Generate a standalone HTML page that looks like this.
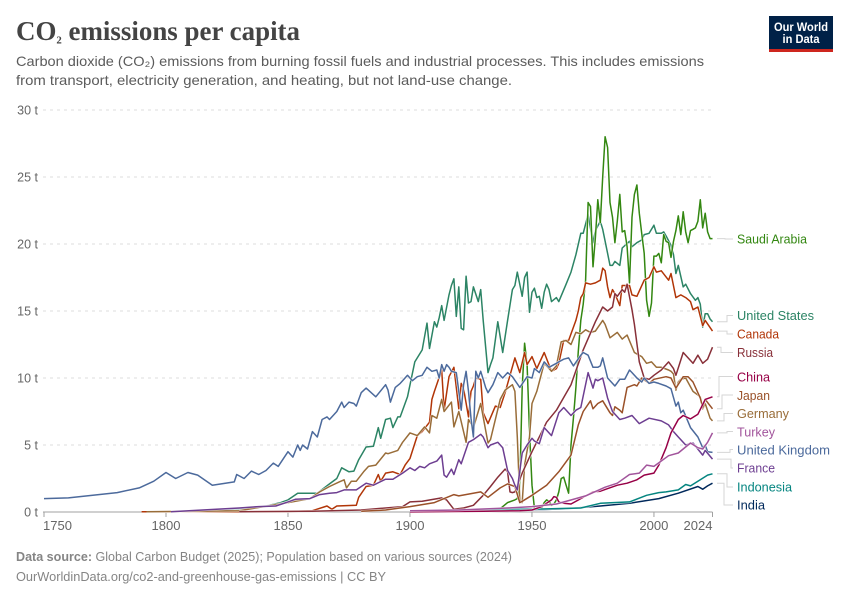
<!DOCTYPE html>
<html lang="en">
<head>
<meta charset="utf-8">
<title>CO₂ emissions per capita</title>
<style>
html,body{margin:0;padding:0;background:#fff;}
svg{display:block;font-family:"Liberation Sans",sans-serif;}
</style>
</head>
<body>
<svg id="chart" width="850" height="600" viewBox="0 0 850 600" xmlns="http://www.w3.org/2000/svg">
  <rect x="0" y="0" width="850" height="600" fill="#fff"/>
  <text x="16" y="40" font-family="'Liberation Serif',serif" font-size="27" font-weight="700" fill="#444444" textLength="284" lengthAdjust="spacingAndGlyphs">CO<tspan font-size="18">₂</tspan> emissions per capita</text>
  <text x="16" y="66" font-size="14" fill="#5b5b5b" textLength="688" lengthAdjust="spacingAndGlyphs">Carbon dioxide (CO₂) emissions from burning fossil fuels and industrial processes. This includes emissions</text>
  <text x="16" y="85" font-size="14" fill="#5b5b5b" textLength="496" lengthAdjust="spacingAndGlyphs">from transport, electricity generation, and heating, but not land-use change.</text>
  <g>
    <rect x="769" y="16" width="64" height="36" fill="#002147"/>
    <rect x="769" y="49" width="64" height="3" fill="#ce261e"/>
    <text x="801" y="31" font-size="12" font-weight="700" fill="#fff" text-anchor="middle" textLength="54" lengthAdjust="spacingAndGlyphs">Our World</text>
    <text x="801" y="43" font-size="12" font-weight="700" fill="#fff" text-anchor="middle" textLength="37" lengthAdjust="spacingAndGlyphs">in Data</text>
  </g>
  <g id="grid"></g>
  <g id="axis"></g>
  <g id="series"></g>
  <g id="connectors"></g>
  <g id="legend" font-size="12.5">
    <text x="737" y="243.5" fill="#338711" textLength="70" lengthAdjust="spacingAndGlyphs">Saudi Arabia</text>
    <text x="737" y="320" fill="#2c8465" textLength="77" lengthAdjust="spacingAndGlyphs">United States</text>
    <text x="737" y="338.5" fill="#b13507" textLength="42" lengthAdjust="spacingAndGlyphs">Canada</text>
    <text x="737" y="357" fill="#883039" textLength="36" lengthAdjust="spacingAndGlyphs">Russia</text>
    <text x="737" y="381.5" fill="#970046" textLength="33" lengthAdjust="spacingAndGlyphs">China</text>
    <text x="737" y="400" fill="#9a5129" textLength="33" lengthAdjust="spacingAndGlyphs">Japan</text>
    <text x="737" y="418" fill="#996d39" textLength="52" lengthAdjust="spacingAndGlyphs">Germany</text>
    <text x="737" y="436.5" fill="#a2559c" textLength="38" lengthAdjust="spacingAndGlyphs">Turkey</text>
    <text x="737" y="454.5" fill="#4c6a9c" textLength="93" lengthAdjust="spacingAndGlyphs">United Kingdom</text>
    <text x="737" y="472.5" fill="#6d3e91" textLength="38" lengthAdjust="spacingAndGlyphs">France</text>
    <text x="737" y="491.5" fill="#058580" textLength="55" lengthAdjust="spacingAndGlyphs">Indonesia</text>
    <text x="737" y="509.5" fill="#00295b" textLength="28" lengthAdjust="spacingAndGlyphs">India</text>
  </g>
  <text x="16" y="561" font-size="13" fill="#858585" textLength="496" lengthAdjust="spacingAndGlyphs"><tspan font-weight="700">Data source:</tspan> Global Carbon Budget (2025); Population based on various sources (2024)</text>
  <text x="16" y="581" font-size="13" fill="#858585" textLength="370" lengthAdjust="spacingAndGlyphs">OurWorldinData.org/co2-and-greenhouse-gas-emissions | CC BY</text>
</svg>
<script>
const yTickValues = [0, 5, 10, 15, 20, 25, 30];
const xTickYears = [1750, 1800, 1850, 1900, 1950, 2000, 2024];

const unitedKingdomYears = [
  1750,1760,1770,1780,1789,1795,1800,1804,1809,1813,
  1819,1828,1829,1832,1835,1838,1841,1844,1846,1850,
  1852,1854,1855,1856,1858,1860,1862,1864,1866,1867,
  1870,1872,1873,1875,1877,1878,1880,1882,1886,1890,
  1891,1892,1894,1896,1899,1901,1903,1905,1907,1909,
  1911,1912,1913,1914,1915,1916,1917,1919,1920,1921,
  1922,1923,1924,1925,1926,1927,1928,1929,1930,1931,
  1932,1934,1936,1938,1940,1942,1945,1948,1950,1951,
  1953,1955,1957,1960,1961,1963,1965,1967,1970,1971,
  1973,1975,1977,1978,1979,1981,1984,1986,1988,1990,
  1991,1993,1995,1996,1998,2000,2002,2005,2007,2009,
  2010,2011,2012,2015,2018,2019,2020,2021,2022,2024
];
const unitedKingdomValues = [
  1,1.05,1.25,1.45,1.8,2.3,2.95,2.5,2.95,2.75,
  2,2.25,2.8,2.5,3.05,2.8,3.1,3.65,3.4,4.5,
  4.1,5,4.6,5,4.7,6,5.6,6.9,7.1,6.9,
  7.5,8.2,7.8,8.2,8.1,7.9,8.9,9.25,8.6,9.5,
  9.1,8.2,9.3,9.6,10.2,9.8,10.1,10.2,10.8,10.5,
  10.6,10,11,10.5,11,10.8,10.5,10.4,9,7.6,
  9.5,10.5,9,7,5.6,10.5,10,10.5,9.9,9.3,
  8.9,9.5,10.4,10,10.4,10.1,9.3,10.1,10,10.7,
  10.4,11.2,10.8,11.1,11.2,11.4,11.5,10.9,11.7,11.9,
  11.7,10.8,10.8,10.9,11.5,10,9.4,9.9,9.9,10.6,
  10.4,10,9.7,10,9.6,9.7,9.6,9.4,9.2,7.9,
  8.2,7.4,7.6,6.3,5.6,5.2,4.8,5,4.5,4.45
];
const unitedStatesYears = [1820,1840,1847,1850,1854,1862,1867,1870,1872,1875,1877,1879,1882,1885,1887,1888,1890,1892,1893,1895,1896,1899,1902,1905,1907,1908,1910,1911,1912,1913,1914,1916,1917,1918,1919,1920,1921,1922,1923,1924,1925,1926,1928,1929,1930,1932,1933,1934,1936,1938,1940,1942,1943,1944,1946,1947,1948,1949,1950,1951,1952,1953,1954,1955,1956,1957,1958,1960,1961,1964,1966,1968,1970,1971,1973,1975,1976,1978,1979,1981,1982,1983,1984,1986,1987,1990,1991,1993,1995,1996,1998,2000,2001,2003,2004,2005,2007,2008,2009,2010,2012,2013,2015,2017,2018,2019,2020,2021,2022,2023,2024];
const unitedStatesValues = [0.1,0.4,0.7,0.9,1.4,1.4,2.1,2.5,3.3,3,3.05,3.9,4.85,4.9,6.3,5.5,6.9,7,6.3,7.1,7.1,8.6,11.2,12.1,14.1,12.2,14.2,13.8,14.5,15.4,14.3,16.2,16.9,17.4,14.6,16.8,13.7,13.6,17.6,15.6,15.7,16.8,15.7,16.6,14.3,10.4,11,11.5,14.2,11.9,14.3,16.6,16.9,17.9,16.1,17.5,17.9,14.9,16.4,16.7,16,16.1,15.2,16.4,17,16.6,15.7,16,15.7,17,17.9,19.2,20.8,20.8,22.2,20.1,21,21.7,21.1,19.3,18.4,18.4,18.7,18.4,19.7,20.2,19.8,20.1,20.3,20.7,20.8,21.4,20.8,20.8,20.9,20.6,19.9,19.2,17.8,18.4,16.8,17,16.3,15.8,16,15.5,13.8,14.8,14.8,14.4,14.2];
const saudiArabiaYears = [1936,1940,1943,1944,1945,1946,1947,1948,1949,1950,1951,1952,1953,1954,1955,1956,1957,1958,1959,1960,1961,1962,1963,1964,1965,1966,1967,1968,1969,1970,1971,1972,1973,1974,1975,1976,1977,1978,1979,1980,1981,1982,1983,1984,1985,1986,1987,1988,1989,1990,1991,1992,1993,1994,1995,1996,1997,1998,1999,2000,2001,2002,2003,2004,2005,2006,2007,2008,2009,2010,2011,2012,2013,2014,2015,2016,2017,2018,2019,2020,2021,2022,2023,2024];
const saudiArabiaValues = [0.1,0.7,0.9,1,1.9,9.3,12.6,11,6,2,0.3,0.2,0.4,0.3,0.7,0.9,0.8,0.5,0.6,0.9,1.5,2.5,2.6,2,1.4,5,7,9.3,12,14.3,15.5,17.3,23.1,22.8,18.3,20.5,23.3,21.6,25,28,27.2,23.1,22,20.1,21.7,23.7,20.9,21,19.8,17.1,22,23.7,24.4,22.3,20.8,19.3,15.8,14.6,15.6,19.1,19.1,19.3,18.6,20.7,20.2,20.1,19,20.2,21,22.1,20.7,22.4,20.9,20.1,21,21.1,21.2,21.7,23.3,21.2,22.3,20.9,20.4,20.4];
const canadaYears = [1790,1830,1850,1860,1866,1868,1870,1878,1879,1882,1885,1887,1888,1890,1893,1896,1898,1900,1903,1905,1908,1909,1910,1913,1914,1916,1918,1919,1920,1921,1922,1924,1925,1926,1927,1929,1930,1932,1935,1937,1939,1941,1943,1945,1947,1948,1950,1952,1955,1958,1960,1961,1963,1965,1968,1969,1970,1971,1972,1974,1976,1978,1979,1980,1981,1982,1983,1984,1986,1987,1990,1991,1993,1996,1998,2000,2001,2003,2006,2007,2009,2011,2013,2015,2016,2018,2020,2021,2024];
const canadaValues = [0.02,0.02,0.03,0.1,0.45,0.2,0.45,0.5,1.1,1.9,2,2.8,2.3,2.9,3,2.8,3.5,4,5.7,6,6.7,8.4,9,10.6,7.6,10.1,10.8,9.3,7.7,9.6,9.2,7.1,9,9.4,10,9.9,7.4,6.6,7.9,7.8,8.9,10.2,11.5,10.4,11.9,11,11.6,10.7,11.9,10.5,10.7,11.1,12.8,12.8,14.3,15,16,16.3,17.1,17,17.1,17.3,18.2,18,16.8,16,16.6,16.3,15.4,16.9,16.9,16.2,16.1,17.3,17.5,18.3,17.9,18,17.3,17.8,16,16.2,16,15.7,15.1,15.3,13.9,14.3,13.5];
const germanyYears = [1792,1830,1850,1859,1863,1867,1871,1873,1874,1876,1878,1881,1883,1886,1890,1891,1895,1897,1900,1903,1906,1908,1909,1911,1913,1914,1917,1918,1920,1923,1924,1926,1929,1932,1933,1937,1939,1942,1943,1944,1945,1946,1947,1949,1950,1952,1955,1956,1958,1960,1962,1964,1966,1968,1970,1972,1974,1976,1979,1980,1982,1985,1987,1989,1992,1995,1997,1999,2001,2003,2006,2007,2008,2009,2010,2011,2013,2016,2019,2020,2021,2023,2024];
const germanyValues = [0.02,0.1,0.7,1,1.5,1.9,2.25,2.4,1.8,2.3,2.3,3,3.4,3.5,4.4,4.35,4.6,5.2,5.9,5.7,6.35,5.9,7.2,7,8.4,7.5,8.2,6.35,7.5,5.2,6.9,6.3,8.1,5.15,5.4,8.4,9.1,9.5,9,5.6,0.9,0.7,3.5,5.6,8.1,9,11.1,10.9,10.5,10.9,12.7,12.8,12.5,13.4,13.3,13.6,13.4,13.5,14.3,14,13,13.4,12.9,13.2,11.9,11.6,11.1,11.2,10.8,10.8,10.6,10.5,10.3,9.1,9.7,9.9,10,9,8.6,7.7,8.1,7,6.8];
const franceYears = [1802,1830,1838,1845,1850,1853,1859,1863,1867,1870,1873,1878,1882,1885,1890,1893,1897,1900,1902,1904,1906,1908,1911,1913,1914,1915,1917,1918,1920,1921,1924,1926,1929,1930,1932,1933,1936,1938,1940,1942,1943,1944,1946,1948,1950,1951,1953,1955,1958,1961,1963,1966,1968,1970,1973,1975,1976,1977,1979,1981,1983,1986,1988,1991,1994,1998,2003,2006,2008,2010,2013,2016,2020,2021,2024];
const franceValues = [0.02,0.3,0.4,0.45,0.75,0.95,1,1.3,1.4,1.45,1.65,1.65,2.15,2,2.45,2.45,2.9,3.3,3.1,3.4,3.3,3.6,3.8,4.25,2.75,2.6,3.2,2.8,3.9,3.6,5.2,5.4,5.8,5.6,4.8,5,5.2,4.8,3.1,2.5,2,1.65,4.4,5,5.5,5.3,5.1,6.3,5.7,7.4,7.8,7.2,7.6,7.8,10.4,9.25,9.9,9.8,10,8.5,7.5,6.9,7,7.2,6.6,7,6.8,6.5,6,5.6,5,5.15,4.25,4.6,3.95];
const russiaYears = [1830,1860,1880,1897,1900,1905,1913,1915,1918,1922,1926,1930,1933,1936,1939,1940,1941,1942,1943,1946,1950,1956,1960,1966,1971,1976,1979,1981,1983,1984,1985,1987,1988,1989,1991,1992,1994,1996,1998,2000,2003,2006,2008,2009,2012,2014,2016,2018,2020,2022,2024];
const russiaValues = [0.02,0.05,0.15,0.4,0.75,0.8,1.05,0.9,0.2,0.3,0.5,1.25,1.9,2.6,3.2,3,1.5,1.45,1.5,2.9,4.5,6.7,7.6,9.5,12.1,14.2,15.3,15,15.3,16.3,16.1,16.6,16.4,17,15.1,14,11.2,10,9.9,10.2,10.6,11.2,10.7,10.2,11.9,11.5,11.1,11.7,11.1,11.4,12.3];
const japanYears = [1880,1890,1900,1910,1918,1920,1929,1932,1937,1940,1943,1945,1946,1950,1956,1961,1966,1969,1971,1974,1975,1977,1979,1982,1983,1984,1986,1987,1989,1992,1993,1995,1998,2000,2005,2007,2009,2012,2014,2016,2019,2020,2021,2024];
const japanValues = [0.05,0.15,0.4,0.7,1.3,1.2,1.5,1.1,1.8,2.1,1.9,0.7,0.8,1.25,2,3,4.25,6.5,7.5,8.3,7.7,8.1,8.3,7.4,7.2,7.85,7.6,7.4,9.3,9.5,9.4,10,9.6,9.9,10.1,10,9.25,10.1,10.1,9.7,8.5,7.8,8.4,7.7];
const chinaYears = [1900,1930,1945,1950,1954,1958,1959,1960,1961,1963,1966,1970,1975,1978,1985,1989,1993,1996,2000,2002,2005,2007,2010,2012,2015,2018,2021,2024];
const chinaValues = [0.01,0.05,0.1,0.15,0.4,0.9,1.15,1.1,0.75,0.65,0.6,1,1.5,1.55,2,2.15,2.4,2.75,2.9,3.5,4.8,5.9,6.9,7.2,6.95,7.3,8.4,8.6];
const turkeyYears = [1900,1920,1940,1950,1960,1965,1972,1980,1985,1990,1994,1997,2000,2006,2010,2015,2018,2020,2022,2024];
const turkeyValues = [0.1,0.15,0.3,0.4,0.6,0.85,1.2,1.85,2.15,2.8,2.9,3.5,3.4,4.2,4.4,5.15,4.8,4.7,5.2,5.9];
const indonesiaYears = [1915,1925,1940,1950,1960,1970,1978,1990,1997,2002,2005,2010,2013,2015,2018,2022,2024];
const indonesiaValues = [0.05,0.1,0.2,0.2,0.25,0.3,0.65,0.75,1.25,1.45,1.5,1.65,2.05,1.95,2.3,2.75,2.85];
const indiaYears = [1900,1930,1950,1965,1978,1990,2002,2010,2018,2020,2022,2024];
const indiaValues = [0.02,0.08,0.15,0.25,0.45,0.65,1,1.4,1.9,1.7,1.95,2.15];

const seriesList = [
  {key:'united-states',years:unitedStatesYears,values:unitedStatesValues,color:'#2c8465',labelY:315.5,elbow:727},
  {key:'saudi-arabia',years:saudiArabiaYears,values:saudiArabiaValues,color:'#338711',labelY:239,elbow:725},
  {key:'canada',years:canadaYears,values:canadaValues,color:'#b13507',labelY:334,elbow:727},
  {key:'germany',years:germanyYears,values:germanyValues,color:'#996d39',labelY:413.5,elbow:724},
  {key:'russia',years:russiaYears,values:russiaValues,color:'#883039',labelY:352.5,elbow:721},
  {key:'japan',years:japanYears,values:japanValues,color:'#9a5129',labelY:395,elbow:722},
  {key:'united-kingdom',years:unitedKingdomYears,values:unitedKingdomValues,color:'#4c6a9c',labelY:449.5,elbow:730},
  {key:'france',years:franceYears,values:franceValues,color:'#6d3e91',labelY:468,elbow:731},
  {key:'india',years:indiaYears,values:indiaValues,color:'#00295b',labelY:505,elbow:724},
  {key:'indonesia',years:indonesiaYears,values:indonesiaValues,color:'#058580',labelY:487,elbow:727},
  {key:'china',years:chinaYears,values:chinaValues,color:'#970046',labelY:376.5,elbow:719},
  {key:'turkey',years:turkeyYears,values:turkeyValues,color:'#a2559c',labelY:431.5,elbow:727}
];

const NS = 'http://www.w3.org/2000/svg';
function xScale(year){ return 44 + (year - 1750) * (712.5 - 44) / (2024 - 1750); }
function yScale(value){ return 512 - value * (512 - 110) / 30; }
function make(tag, attrs, parent){
  const el = document.createElementNS(NS, tag);
  for (const k in attrs) el.setAttribute(k, attrs[k]);
  parent.appendChild(el);
  return el;
}

const gridGroup = document.getElementById('grid');
yTickValues.forEach(function(v){
  if (v > 0) {
    const line = make('line', {x1:43, x2:712, y1:yScale(v), y2:yScale(v), stroke:'#dddddd', 'stroke-width':1, 'stroke-dasharray':'3,4'}, gridGroup);
    
    
  }
  const label = make('text', {x:38, y:yScale(v) + 4.5, 'text-anchor':'end', 'font-size':12.5, fill:'#666666'}, gridGroup);
  label.textContent = v + ' t';
  
  
});

const axisGroup = document.getElementById('axis');
const baseline = make('line', {x1:43, x2:712.5, y1:512, y2:512, stroke:'#a1a1a1', 'stroke-width':1}, axisGroup);


xTickYears.forEach(function(yr, i){
  const px = xScale(yr);
  const tick = make('line', {x1:px, x2:px, y1:512, y2:517, stroke:'#a1a1a1', 'stroke-width':1}, axisGroup);
  
  
  const anchor = i === 0 ? 'start' : (i === xTickYears.length - 1 ? 'end' : 'middle');
  const label = make('text', {x:i === 0 ? 43 : px, y:530, 'text-anchor':anchor, 'font-size':12.5, fill:'#666666', textLength:29, lengthAdjust:'spacingAndGlyphs'}, axisGroup);
  label.textContent = String(yr);
  
  
});

const seriesGroup = document.getElementById('series');
const connectorGroup = document.getElementById('connectors');
seriesList.forEach(function(s){
  const pts = s.years.map(function(yr, i){ return xScale(yr).toFixed(1) + ',' + yScale(s.values[i]).toFixed(1); }).join(' ');
  const halo = make('polyline', {points:pts, fill:'none', stroke:'#ffffff', 'stroke-width':2.6, 'stroke-opacity':0.75, 'stroke-linejoin':'round'}, seriesGroup);
  
  
  const line = make('polyline', {points:pts, fill:'none', stroke:s.color, 'stroke-width':1.5, 'stroke-linejoin':'round'}, seriesGroup);
  
  
  const endY = yScale(s.values[s.values.length - 1]);
  const conn = make('polyline', {points:'717,' + endY.toFixed(1) + ' ' + s.elbow + ',' + endY.toFixed(1) + ' ' + s.elbow + ',' + s.labelY + ' 733,' + s.labelY, fill:'none', stroke:'#d6d6d6', 'stroke-width':1}, connectorGroup);
  
  
});
</script>
</body>
</html>
